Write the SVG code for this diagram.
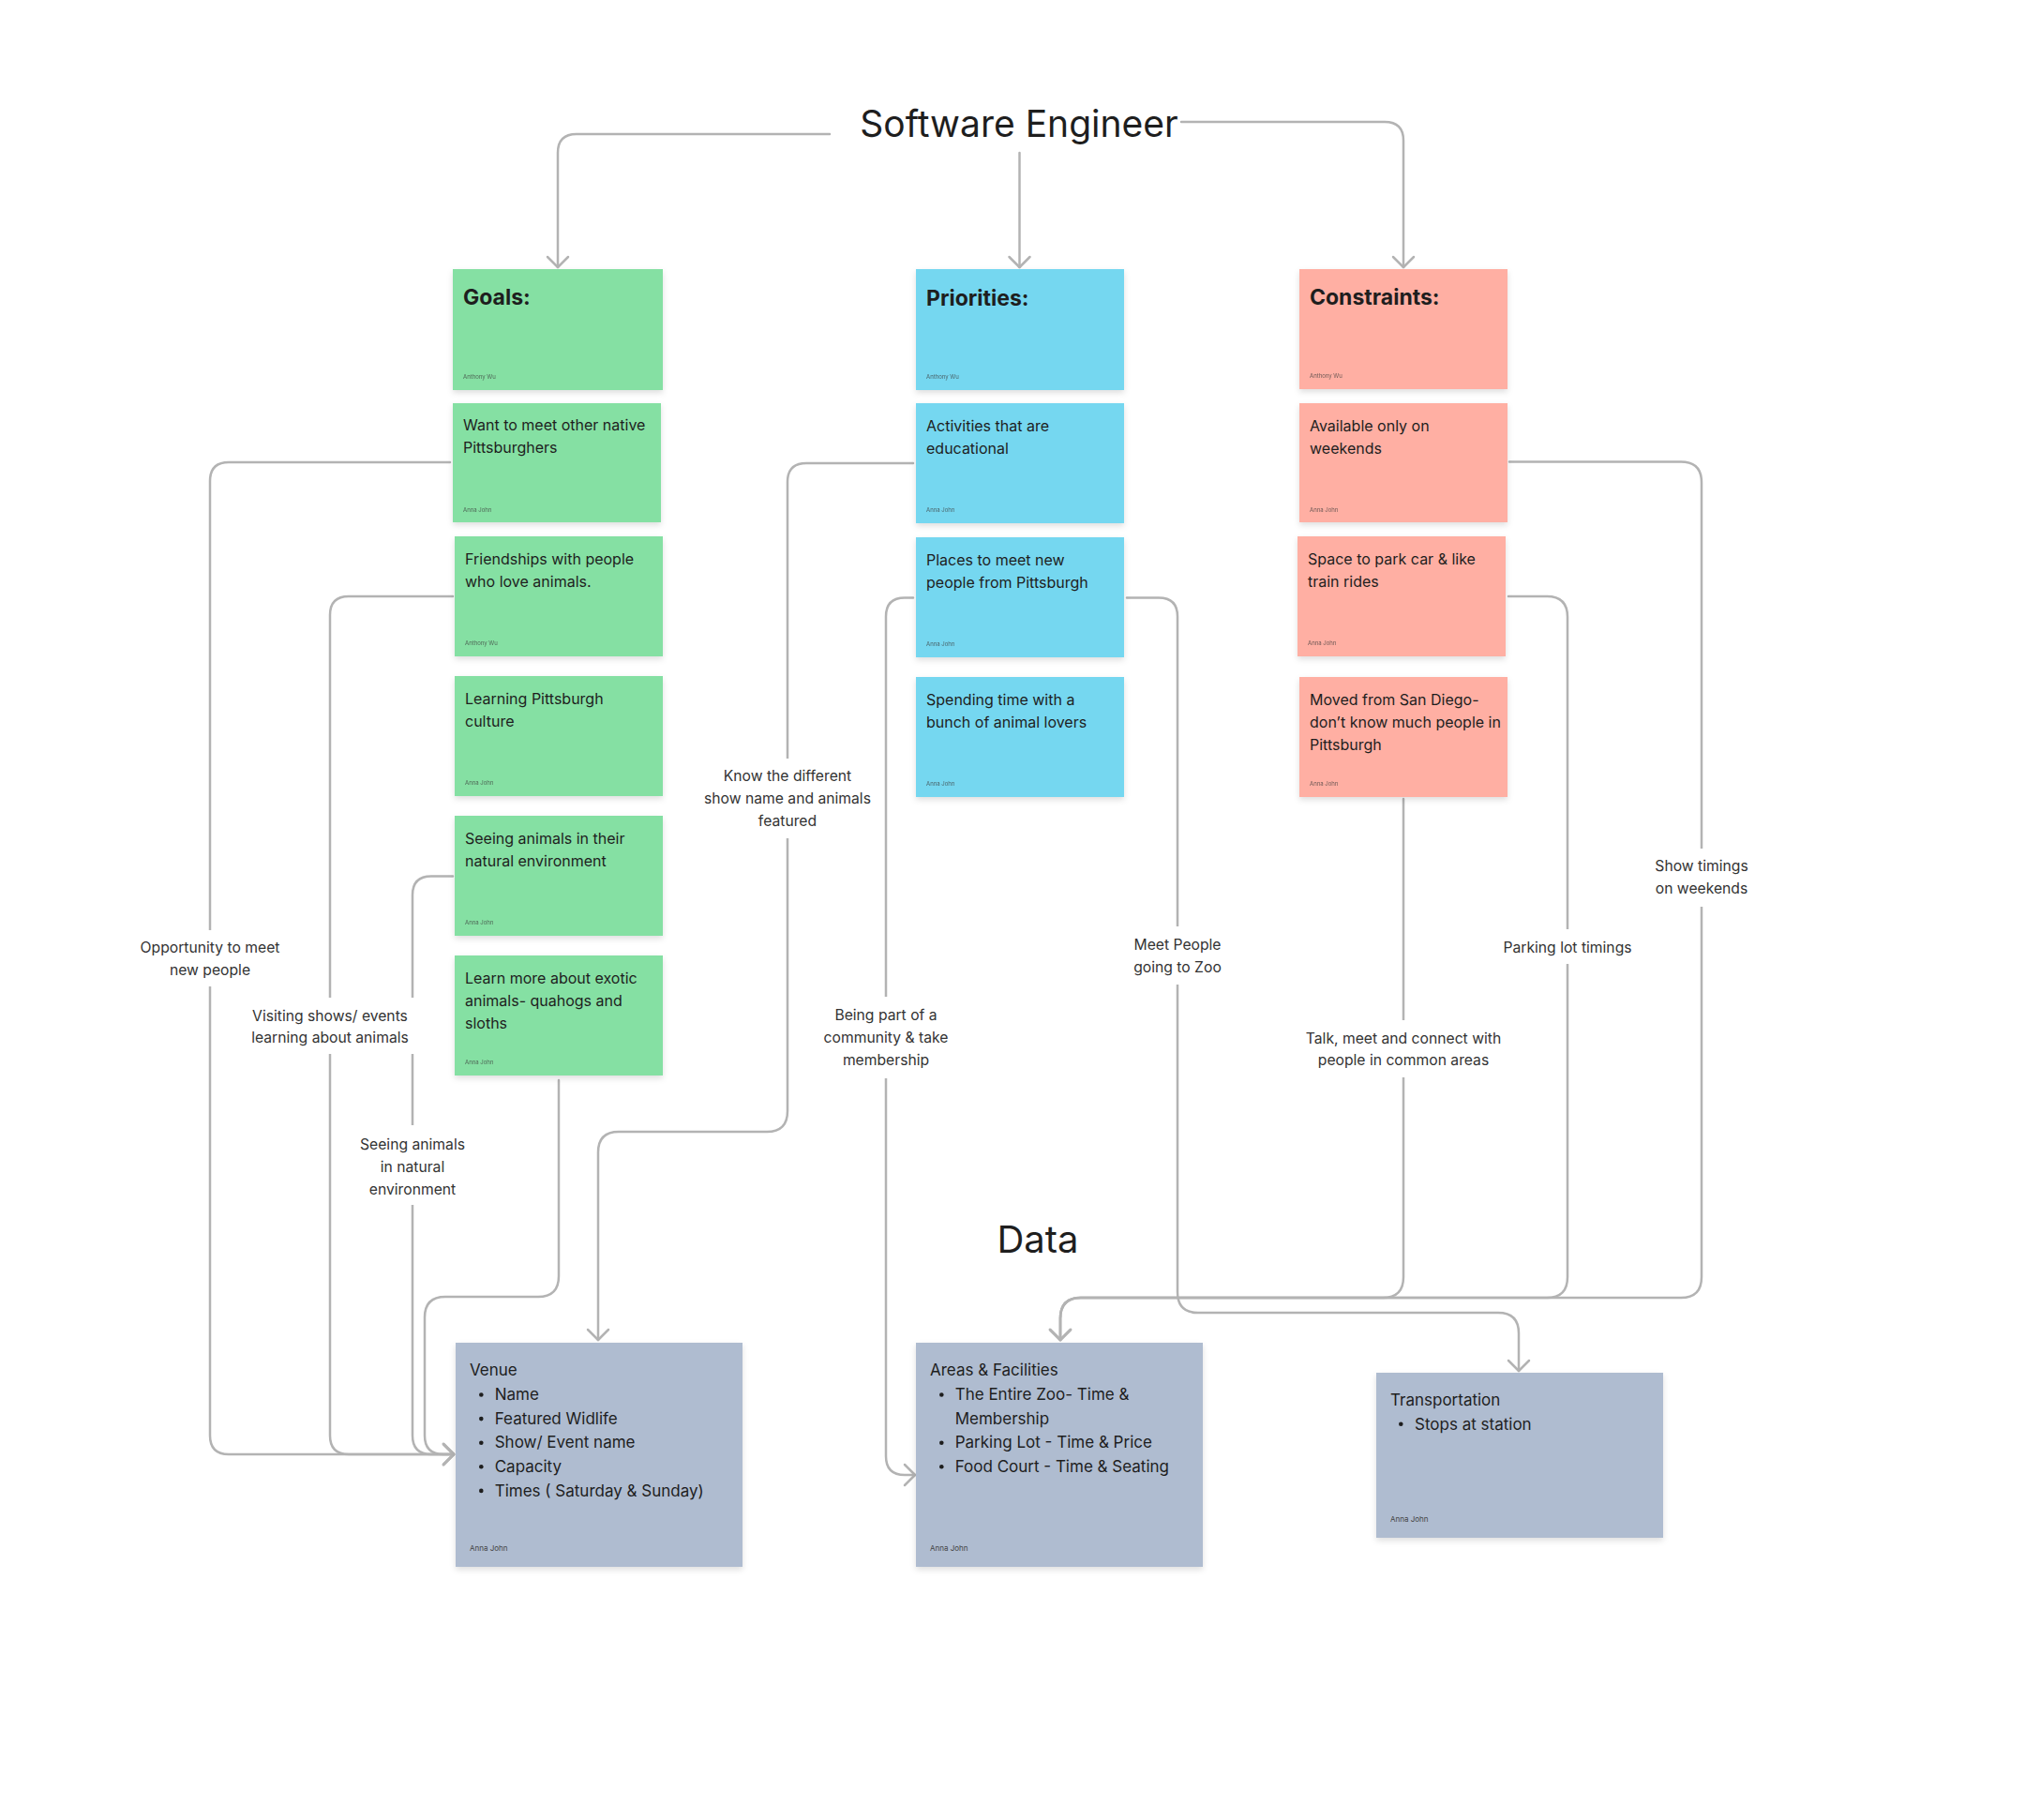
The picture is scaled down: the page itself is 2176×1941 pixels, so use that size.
<svg xmlns="http://www.w3.org/2000/svg" width="2176" height="1941" viewBox="0 0 2176 1941">
<defs>
<filter id="sh" x="-10%" y="-10%" width="120%" height="130%">
<feDropShadow dx="0" dy="3" stdDeviation="3" flood-color="#000" flood-opacity="0.13"/>
</filter>
<marker id="arr" markerUnits="userSpaceOnUse" viewBox="-16 -16 32 32" markerWidth="32" markerHeight="32" refX="0" refY="0" orient="auto">
<path d="M-11,-11 L0,0 L-11,11" fill="none" stroke="#b3b3b3" stroke-width="2.5" stroke-linecap="round" stroke-linejoin="round"/>
</marker>
</defs>
<style>
text{font-family:Inter,"Noto Sans","Liberation Sans",sans-serif;fill:#1e1e1e}
.title{font-size:39px}
.dtitle{font-size:40px}
.hd{font-size:23px;font-weight:700}
.tx{font-size:16px}
.dt{font-size:17px}
.au{font-size:6px;fill:#3a3a3a;opacity:.75}
.dau{font-size:8px;fill:#444}
.lb{font-size:15.7px;fill:#333;text-anchor:middle}
.lbg{fill:#fff}
.green{fill:#85e0a3}
.blue{fill:#75d7f0}
.red{fill:#ffafa3}
.data{fill:#afbcd0}
.card{filter:url(#sh)}
.con{fill:none;stroke:#b3b3b3;stroke-width:2.5;stroke-linecap:round;stroke-linejoin:round}
.ar{marker-end:url(#arr)}
.dot{fill:#1e1e1e}
</style>
<rect width="2176" height="1941" fill="#fff"/>

<g id="connectors">
<path class="con ar" d="M885 143 H615 Q595 143 595 163 V285"/>
<path class="con ar" d="M1087.5 163 V285"/>
<path class="con ar" d="M1260 130 H1477 Q1497 130 1497 150 V285"/>

<path class="con ar" d="M480 493 H244 Q224 493 224 513 V1531 Q224 1551 244 1551 H484"/>
<path class="con ar" d="M483 636 H372 Q352 636 352 656 V1531 Q352 1551 372 1551 H484"/>
<path class="con ar" d="M483 934.5 H460 Q440 934.5 440 954.5 V1531 Q440 1551 460 1551 H484"/>
<path class="con ar" d="M596 1152 V1361 Q596 1383 574 1383 H475 Q453 1383 453 1405 V1531 Q453 1551 473 1551 H484"/>

<path class="con ar" d="M974 494 H860 Q840 494 840 514 V1185 Q840 1207 818 1207 H660 Q638 1207 638 1229 V1429"/>
<path class="con ar" d="M974 637.5 H965 Q945 637.5 945 657.5 V1553 Q945 1573 965 1573 H976"/>
<path class="con ar" d="M1202 637.5 H1236 Q1256 637.5 1256 657.5 V1378 Q1256 1400 1278 1400 H1598 Q1620 1400 1620 1422 V1462"/>

<path class="con ar" d="M1497 852 V1362 Q1497 1384 1475 1384 H1153 Q1131 1384 1131 1406 V1429"/>
<path class="con ar" d="M1609 636 H1650 Q1672 636 1672 658 V1362 Q1672 1384 1650 1384 H1153 Q1131 1384 1131 1406 V1429"/>
<path class="con ar" d="M1610 492.5 H1793 Q1815 492.5 1815 514.5 V1362 Q1815 1384 1793 1384 H1153 Q1131 1384 1131 1406 V1429"/>
</g>

<g id="labels">
<rect class="lbg" x="138" y="992" width="172" height="60"/>
<text class="lb" x="224" y="1016">Opportunity to meet</text>
<text class="lb" x="224" y="1040">new people</text>

<rect class="lbg" x="260" y="1064" width="182" height="60"/>
<text class="lb" x="352" y="1089">Visiting shows/ events</text>
<text class="lb" x="352" y="1112">learning about animals</text>

<rect class="lbg" x="382" y="1200" width="116" height="85"/>
<text class="lb" x="440" y="1225.5">Seeing animals</text>
<text class="lb" x="440" y="1249.5">in natural</text>
<text class="lb" x="440" y="1273.5">environment</text>

<rect class="lbg" x="748" y="809" width="184" height="85"/>
<text class="lb" x="840" y="833">Know the different</text>
<text class="lb" x="840" y="857">show name and animals</text>
<text class="lb" x="840" y="881">featured</text>

<rect class="lbg" x="876" y="1063" width="138" height="87"/>
<text class="lb" x="945" y="1088">Being part of a</text>
<text class="lb" x="945" y="1112">community &amp; take</text>
<text class="lb" x="945" y="1136">membership</text>

<rect class="lbg" x="1202" y="988" width="108" height="62"/>
<text class="lb" x="1256" y="1013">Meet People</text>
<text class="lb" x="1256" y="1037">going to Zoo</text>

<rect class="lbg" x="1386" y="1088" width="222" height="61"/>
<text class="lb" x="1497" y="1112.5">Talk, meet and connect with</text>
<text class="lb" x="1497" y="1136">people in common areas</text>

<rect class="lbg" x="1604" y="991" width="136" height="37"/>
<text class="lb" x="1672" y="1016">Parking lot timings</text>

<rect class="lbg" x="1766" y="905" width="98" height="62"/>
<text class="lb" x="1815" y="929">Show timings</text>
<text class="lb" x="1815" y="953">on weekends</text>
</g>

<g id="title"><text class="title" x="1087" y="146" text-anchor="middle">Software Engineer</text></g>
<g id="data-title"><text class="dtitle" x="1107" y="1336" text-anchor="middle">Data</text></g>

<g id="goals">
<rect class="card green" x="483" y="287" width="224" height="129"/>
<text class="hd" x="494" y="325">Goals:</text>
<text class="au" x="494" y="404">Anthony Wu</text>
</g>
<g id="goal-meet-natives">
<rect class="card green" x="483" y="430" width="222" height="127"/>
<text class="tx" x="494" y="458.5">Want to meet other native</text>
<text class="tx" x="494" y="482.5">Pittsburghers</text>
<text class="au" x="494" y="546">Anna John</text>
</g>
<g id="goal-friendships">
<rect class="card green" x="485" y="572" width="222" height="128"/>
<text class="tx" x="496" y="601.5">Friendships with people</text>
<text class="tx" x="496" y="625.5">who love animals.</text>
<text class="au" x="496" y="688">Anthony Wu</text>
</g>
<g id="goal-culture">
<rect class="card green" x="485" y="721" width="222" height="128"/>
<text class="tx" x="496" y="750.5">Learning Pittsburgh</text>
<text class="tx" x="496" y="774.5">culture</text>
<text class="au" x="496" y="837">Anna John</text>
</g>
<g id="goal-natural">
<rect class="card green" x="485" y="870" width="222" height="128"/>
<text class="tx" x="496" y="899.5">Seeing animals in their</text>
<text class="tx" x="496" y="923.5">natural environment</text>
<text class="au" x="496" y="986">Anna John</text>
</g>
<g id="goal-exotic">
<rect class="card green" x="485" y="1019" width="222" height="128"/>
<text class="tx" x="496" y="1048.5">Learn more about exotic</text>
<text class="tx" x="496" y="1072.5">animals- quahogs and</text>
<text class="tx" x="496" y="1096.5">sloths</text>
<text class="au" x="496" y="1135">Anna John</text>
</g>

<g id="priorities">
<rect class="card blue" x="977" y="287" width="222" height="129"/>
<text class="hd" x="988" y="326">Priorities:</text>
<text class="au" x="988" y="404">Anthony Wu</text>
</g>
<g id="prio-educational">
<rect class="card blue" x="977" y="430" width="222" height="128"/>
<text class="tx" x="988" y="459.5">Activities that are</text>
<text class="tx" x="988" y="483.5">educational</text>
<text class="au" x="988" y="546">Anna John</text>
</g>
<g id="prio-places">
<rect class="card blue" x="977" y="573" width="222" height="128"/>
<text class="tx" x="988" y="602.5">Places to meet new</text>
<text class="tx" x="988" y="626.5">people from Pittsburgh</text>
<text class="au" x="988" y="689">Anna John</text>
</g>
<g id="prio-animal-lovers">
<rect class="card blue" x="977" y="722" width="222" height="128"/>
<text class="tx" x="988" y="751.5">Spending time with a</text>
<text class="tx" x="988" y="775.5">bunch of animal lovers</text>
<text class="au" x="988" y="838">Anna John</text>
</g>

<g id="constraints">
<rect class="card red" x="1386" y="287" width="222" height="128"/>
<text class="hd" x="1397" y="325">Constraints:</text>
<text class="au" x="1397" y="403">Anthony Wu</text>
</g>
<g id="cons-weekends">
<rect class="card red" x="1386" y="430" width="222" height="127"/>
<text class="tx" x="1397" y="459.5">Available only on</text>
<text class="tx" x="1397" y="483.5">weekends</text>
<text class="au" x="1397" y="546">Anna John</text>
</g>
<g id="cons-parking">
<rect class="card red" x="1384" y="572" width="222" height="128"/>
<text class="tx" x="1395" y="601.5">Space to park car &amp; like</text>
<text class="tx" x="1395" y="625.5">train rides</text>
<text class="au" x="1395" y="688">Anna John</text>
</g>
<g id="cons-moved">
<rect class="card red" x="1386" y="722" width="222" height="128"/>
<text class="tx" x="1397" y="752">Moved from San Diego-</text>
<text class="tx" x="1397" y="776">don’t know much people in</text>
<text class="tx" x="1397" y="800">Pittsburgh</text>
<text class="au" x="1397" y="838">Anna John</text>
</g>

<g id="venue">
<rect class="card data" x="486" y="1432" width="306" height="239"/>
<text class="dt" x="501" y="1466.5">Venue</text>
<circle class="dot" cx="513.3" cy="1487.5" r="2.3"/><text class="dt" x="527.7" y="1493.2">Name</text>
<circle class="dot" cx="513.3" cy="1513.1" r="2.3"/><text class="dt" x="527.7" y="1518.8">Featured Widlife</text>
<circle class="dot" cx="513.3" cy="1538.7" r="2.3"/><text class="dt" x="527.7" y="1544.4">Show/ Event name</text>
<circle class="dot" cx="513.3" cy="1564.3" r="2.3"/><text class="dt" x="527.7" y="1570">Capacity</text>
<circle class="dot" cx="513.3" cy="1589.9" r="2.3"/><text class="dt" x="527.7" y="1595.6">Times ( Saturday &amp; Sunday)</text>
<text class="dau" x="501" y="1654">Anna John</text>
</g>
<g id="areas">
<rect class="card data" x="977" y="1432" width="306" height="239"/>
<text class="dt" x="992" y="1466.5">Areas &amp; Facilities</text>
<circle class="dot" cx="1004.3" cy="1487.5" r="2.3"/><text class="dt" x="1018.7" y="1493.2">The Entire Zoo- Time &amp;</text>
<text class="dt" x="1018.7" y="1518.8">Membership</text>
<circle class="dot" cx="1004.3" cy="1538.7" r="2.3"/><text class="dt" x="1018.7" y="1544.4">Parking Lot - Time &amp; Price</text>
<circle class="dot" cx="1004.3" cy="1564.3" r="2.3"/><text class="dt" x="1018.7" y="1570">Food Court - Time &amp; Seating</text>
<text class="dau" x="992" y="1654">Anna John</text>
</g>
<g id="transportation">
<rect class="card data" x="1468" y="1464" width="306" height="176"/>
<text class="dt" x="1483" y="1498.5">Transportation</text>
<circle class="dot" cx="1494.3" cy="1518.8" r="2.3"/><text class="dt" x="1509" y="1524.5">Stops at station</text>
<text class="dau" x="1483" y="1623">Anna John</text>
</g>
</svg>
